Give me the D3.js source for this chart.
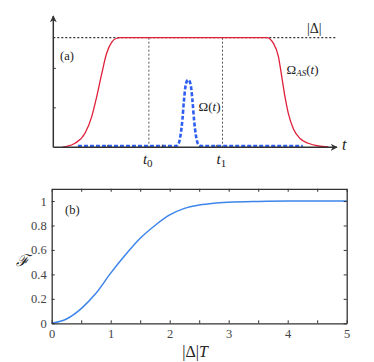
<!DOCTYPE html>
<html>
<head>
<meta charset="utf-8">
<script src="https://cdn.jsdelivr.net/npm/d3@7"></script>
<style>
  body { margin: 0; background: #fff; }
  text { font-family: "Liberation Serif", "DejaVu Serif", serif; }
</style>
</head>
<body>
<div id="chart"></div>
<script>
// data, panel (a): pulses vs time (arbitrary units)
var tAS = [0.9, 1.16, 2.16, 3.15, 3.82, 4.31, 4.81, 5.31, 5.81, 6.3, 6.63, 21.21, 21.87, 22.37, 22.7, 23.03, 23.36, 23.86, 24.52, 25.35, 26.34, 27.34]
var omegaAS = [0, 0.005, 0.037, 0.128, 0.28, 0.46, 0.67, 0.86, 0.96, 0.995, 1, 1, 0.95, 0.83, 0.65, 0.46, 0.31, 0.17, 0.08, 0.037, 0.012, 0.004]

var tP = [2.45, 12.18, 12.43, 12.63, 12.83, 12.98, 13.13, 13.28, 13.41, 13.54, 13.69, 13.84, 13.99, 14.19, 14.39, 14.67, 24.8]
var omegaP = [0.012, 0.012, 0.03, 0.1, 0.25, 0.42, 0.55, 0.605, 0.615, 0.605, 0.55, 0.42, 0.25, 0.1, 0.03, 0.012, 0.012]

var tMarks = [9.5, 16.82]
var tMarkLabels = ["0", "1"]
var aTicksX = [5.42, 10.84, 16.26]
var aTicksY = [0.36, 0.72]

// data, panel (b): fidelity vs |Delta|T
var dT = [0, 0.25, 0.5, 0.75, 1, 1.25, 1.5, 1.75, 2, 2.25, 2.5, 2.75, 3, 3.5, 4, 4.5, 5]
var fid = [0, 0.035, 0.12, 0.245, 0.41, 0.56, 0.695, 0.8, 0.886, 0.94, 0.967, 0.982, 0.99, 0.997, 1, 1, 1]
var bTicksX = [0, 1, 2, 3, 4, 5]
var bTicksY = [0, 0.2, 0.4, 0.6, 0.8, 1]

var svg = d3.select("#chart").append("svg")
    .attr("width", 374)
    .attr("height", 362)

// ---------- panel (a)
var xa = d3.scaleLinear().domain([0, 28]).range([53.3, 335])
var ya = d3.scaleLinear().domain([0, 1]).range([147.3, 37.7])

var ga = svg.append("g")

// dotted level |Delta|
ga.append("line")
  .attr("x1", xa(0)).attr("x2", xa(28.2))
  .attr("y1", ya(1)).attr("y2", ya(1))
  .attr("stroke", "#333").attr("stroke-width", 1.3)
  .attr("stroke-dasharray", "2,2")

// vertical t0, t1
ga.selectAll(".vmark").data(tMarks).enter().append("line")
  .attr("x1", d => xa(d)).attr("x2", d => xa(d))
  .attr("y1", ya(1)).attr("y2", ya(0))
  .attr("stroke", "#555").attr("stroke-width", 1)
  .attr("stroke-dasharray", "2,2")

var line = d3.line().curve(d3.curveMonotoneX)

ga.append("path")
  .attr("d", line(tAS.map((t, i) => [xa(t), ya(omegaAS[i])])))
  .attr("fill", "none").attr("stroke", "#e0203a").attr("stroke-width", 1.3)

ga.append("path")
  .attr("d", line(tP.map((t, i) => [xa(t), ya(omegaP[i])])))
  .attr("fill", "none").attr("stroke", "#2e5ff0").attr("stroke-width", 2.6)
  .attr("stroke-dasharray", "4,2")

// axes with arrows
svg.append("defs").append("marker")
  .attr("id", "arr").attr("viewBox", "0 0 10 10")
  .attr("refX", 9).attr("refY", 5)
  .attr("markerWidth", 7).attr("markerHeight", 7)
  .attr("markerUnits", "userSpaceOnUse")
  .attr("orient", "auto")
  .append("path").attr("d", "M0,0 L10,5 L0,10 L3,5 Z").attr("fill", "#333")

ga.append("line")
  .attr("x1", xa(0)).attr("x2", 337).attr("y1", ya(0)).attr("y2", ya(0))
  .attr("stroke", "#333").attr("stroke-width", 1.5)
  .attr("marker-end", "url(#arr)")
ga.append("line")
  .attr("x1", xa(0)).attr("x2", xa(0)).attr("y1", ya(0)).attr("y2", 16)
  .attr("stroke", "#333").attr("stroke-width", 1.5)
  .attr("marker-end", "url(#arr)")

ga.selectAll(".tx").data(aTicksX).enter().append("line")
  .attr("x1", d => xa(d)).attr("x2", d => xa(d))
  .attr("y1", ya(0)).attr("y2", ya(0) - 2.5)
  .attr("stroke", "#333").attr("stroke-width", 1)
ga.selectAll(".ty").data(aTicksY).enter().append("line")
  .attr("x1", xa(0)).attr("x2", xa(0) + 2.5)
  .attr("y1", d => ya(d)).attr("y2", d => ya(d))
  .attr("stroke", "#333").attr("stroke-width", 1)

// labels (a)
ga.append("text").attr("x", 60).attr("y", 60).attr("font-size", 12.5).attr("fill", "#222").text("(a)")
ga.append("text").attr("x", 307).attr("y", 33).attr("font-size", 14).attr("fill", "#222").text("|Δ|")
var tAS_lbl = ga.append("text").attr("x", 286.5).attr("y", 74).attr("font-size", 13).attr("fill", "#222")
tAS_lbl.append("tspan").text("Ω")
tAS_lbl.append("tspan").attr("font-style", "italic").attr("font-size", 9).attr("dy", 2).text("AS")
tAS_lbl.append("tspan").attr("dy", -2).text("(")
tAS_lbl.append("tspan").attr("font-style", "italic").text("t")
tAS_lbl.append("tspan").text(")")
var tP_lbl = ga.append("text").attr("x", 198.5).attr("y", 111).attr("font-size", 13).attr("fill", "#222")
tP_lbl.append("tspan").text("Ω(")
tP_lbl.append("tspan").attr("font-style", "italic").text("t")
tP_lbl.append("tspan").text(")")
ga.append("text").attr("x", 342).attr("y", 150).attr("font-size", 16)
  .attr("font-style", "italic").attr("fill", "#222").text("t")
tMarks.forEach(function(d, i) {
  var lb = ga.append("text").attr("x", xa(d) - 6).attr("y", 164).attr("font-size", 15).attr("fill", "#222")
  lb.append("tspan").attr("font-style", "italic").text("t")
  lb.append("tspan").attr("font-size", 11).attr("dy", 3).text(tMarkLabels[i])
})

// ---------- panel (b)
var xb = d3.scaleLinear().domain([0, 5]).range([51.7, 346.7])
var yb = d3.scaleLinear().domain([0, 1.1]).range([323.3, 188.8])

var gb = svg.append("g")

gb.append("path")
  .attr("d", d3.line().curve(d3.curveMonotoneX)
    .x((d, i) => xb(d)).y((d, i) => yb(fid[i]))(dT))
  .attr("fill", "none").attr("stroke", "#3d85ea").attr("stroke-width", 1.5)

var axB = gb.append("g").attr("transform", "translate(0," + yb(0) + ")")
  .call(d3.axisBottom(xb).tickValues(d3.range(0, 5.01, 0.5)).tickSizeInner(-3).tickSizeOuter(0)
    .tickFormat(d => bTicksX.includes(d) ? d : ""))
var axT = gb.append("g").attr("transform", "translate(0," + yb(1.1) + ")")
  .call(d3.axisTop(xb).tickValues(d3.range(0, 5.01, 0.5)).tickSizeInner(-3).tickSizeOuter(0).tickFormat(""))
var axL = gb.append("g").attr("transform", "translate(" + xb(0) + ",0)")
  .call(d3.axisLeft(yb).tickValues(bTicksY).tickSizeInner(-3).tickSizeOuter(0).tickFormat(d => d3.format("~g")(d)))
var axR = gb.append("g").attr("transform", "translate(" + xb(5) + ",0)")
  .call(d3.axisRight(yb).tickValues(bTicksY).tickSizeInner(-3).tickSizeOuter(0).tickFormat(""))

;[axB, axT, axL, axR].forEach(function(a) {
  a.select(".domain").attr("stroke", "#333").attr("stroke-width", 1.3)
  a.selectAll(".tick line").attr("stroke", "#333")
  a.selectAll("text").attr("font-family", "'Liberation Serif', 'DejaVu Serif', serif")
    .attr("font-size", 12.5).attr("fill", "#444")
})
axB.selectAll("text").attr("dy", "0.71em").attr("y", 6)
axL.selectAll("text").attr("x", -5)

gb.append("text").attr("x", 65).attr("y", 214).attr("font-size", 12.5).attr("fill", "#222").text("(b)")
gb.append("text").attr("x", 16).attr("y", 266).attr("font-size", 16)
  .attr("font-style", "italic").attr("fill", "#222").text("ℱ")
var xl = gb.append("text").attr("x", 195).attr("y", 357).attr("text-anchor", "middle")
  .attr("font-size", 16).attr("fill", "#222")
xl.append("tspan").text("|Δ|")
xl.append("tspan").attr("font-style", "italic").text("T")
</script>
</body>
</html>
